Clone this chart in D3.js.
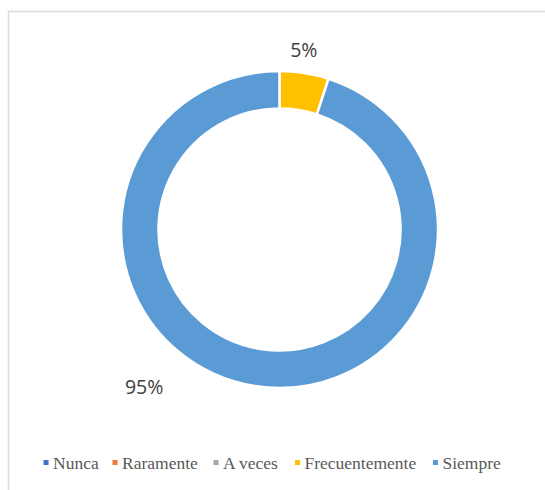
<!DOCTYPE html>
<html><head><meta charset="utf-8">
<script src="https://cdn.jsdelivr.net/npm/d3@7"></script>
<style>html,body{margin:0;padding:0;background:#fff}</style>
</head><body>
<script>
const categories = ["Nunca", "Raramente", "A veces", "Frecuentemente", "Siempre"];
const values = [0, 0, 0, 5, 95];
const colors = ["#4472C4", "#ED7D31", "#A5A5A5", "#FFC000", "#5B9BD5"];
const labelText = ["", "", "", "5%", "95%"];

const W = 545, H = 490;
const svg = d3.select("body").append("svg").attr("width", W).attr("height", H);

// chart border (left/top visible)
svg.append("rect").attr("x", 8.5).attr("y", 11.5).attr("width", 560).attr("height", 520)
  .attr("fill", "none").attr("stroke", "#d9d9d9").attr("stroke-width", 1.5);

const cx = 279.5, cy = 229.5, rOut = 158.5, rIn = 121;
const data = categories.map((c, i) => ({cat: c, value: values[i], color: colors[i], label: labelText[i]}));
const pie = d3.pie().value(d => d.value).sort(null);
const arcs = pie(data);
const arc = d3.arc().innerRadius(rIn).outerRadius(rOut);
const g = svg.append("g").attr("transform", `translate(${cx},${cy})`);
g.selectAll("path").data(arcs.filter(a => a.data.value > 0)).join("path")
  .attr("d", arc).attr("fill", d => d.data.color)
  .attr("stroke", "#fff").attr("stroke-width", 2.5);

// labels
const labelAngle = {"Frecuentemente": 0.135, "Siempre": 3.85};
const labelR = {"Frecuentemente": 181, "Siempre": 208};
arcs.filter(a => a.data.value > 0).forEach(a => {
  const ang = labelAngle[a.data.cat], r = labelR[a.data.cat];
  g.append("text").attr("x", r * Math.sin(ang)).attr("y", -r * Math.cos(ang))
    .attr("text-anchor", "middle").attr("dy", "0.35em")
    .attr("font-family", "'Open Sans', sans-serif").attr("font-size", 19.5)
    .attr("fill", "#404040").text(a.data.label);
});

// legend
const leg = svg.append("g").attr("font-family", "'Liberation Serif', 'Times New Roman', serif")
  .attr("font-size", 17.5).attr("fill", "#595959");
const legX = [43.5, 112.5, 213.5, 295, 433];
categories.forEach((c, i) => {
  leg.append("rect").attr("x", legX[i]).attr("y", 460).attr("width", 5).attr("height", 5).attr("fill", colors[i]);
  leg.append("text").attr("x", legX[i] + 9.5).attr("y", 469).text(c);
});
</script>
</body></html>
